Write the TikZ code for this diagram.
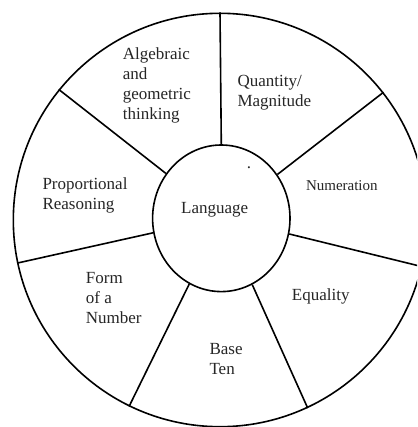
\documentclass[tikz,border=0pt]{standalone}
\usepackage{fontspec}
\setmainfont{Liberation Serif}
\usetikzlibrary{shapes.geometric}
\tikzset{
  ring/.style={draw, line width=1.6pt},
  spoke/.style={draw, line width=1.6pt},
  lbl/.style={anchor=base west, inner sep=0pt, align=left, font=\fontsize{17}{20}\selectfont, text=black!85},
  smalllbl/.style={lbl, font=\fontsize{15}{18}\selectfont}
}
\begin{document}
\begin{tikzpicture}[x=1pt, y=-1pt]
\clip (0,0) rectangle (417,427);
\fill[white] (0,0) rectangle (417,427);
\node[ring, circle, minimum size=413.4pt, inner sep=0pt] (outer) at (220,220) {};
\node[ring, ellipse, minimum width=137.4pt, minimum height=146.6pt, inner sep=0pt] (lang) at (221.3,218.3) {};
\foreach \a in {90,141.43,192.86,244.29,295.71,347.14,38.57}{
  \draw[spoke] (lang.\a) -- (outer.\a);
}
\node[lbl] (langtxt) at (181,213.3) {Language};
\node[lbl] (alg) at (122.7,119.3) {Algebraic\\and\\geometric\\thinking};
\node[lbl] (qty) at (237.3,106.3) {Quantity/\\Magnitude};
\node[smalllbl] (num) at (305.8,191) {Numeration};
\node[lbl] (prop) at (42.3,209.3) {Proportional\\Reasoning};
\node[lbl] (form) at (85.7,323) {Form\\of a\\Number};
\node[lbl] (base) at (209.3,374.3) {Base\\Ten};
\node[lbl] (eq) at (291.7,300) {Equality};
\node[lbl, anchor=base] (dot) at (249,168.5) {.};
\end{tikzpicture}
\end{document}
